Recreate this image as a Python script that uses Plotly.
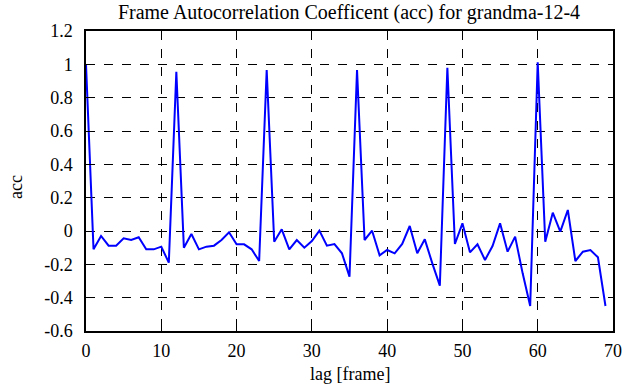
import plotly.graph_objects as go

lags = list(range(70))
acc = [1.0, -0.11, -0.03, -0.088, -0.088, -0.044, -0.054, -0.038, -0.11, -0.11,
       -0.094, -0.19, 0.956, -0.10, -0.018, -0.11, -0.094, -0.088, -0.054, -0.008,
       -0.08, -0.08, -0.11, -0.18, 0.966, -0.064, 0.01, -0.11, -0.054, -0.10,
       -0.06, 0.002, -0.088, -0.078, -0.134, -0.274, 0.966, -0.054, 0.002, -0.146,
       -0.114, -0.134, -0.078, 0.03, -0.134, -0.05, -0.194, -0.328, 0.98, -0.078,
       0.046, -0.128, -0.08, -0.174, -0.09, 0.046, -0.124, -0.034, -0.254, -0.45,
       1.012, -0.064, 0.11, -0.004, 0.126, -0.18, -0.124, -0.114, -0.158, -0.45]

x_ticks = [0, 10, 20, 30, 40, 50, 60, 70]
y_ticks = [1.2, 1.0, 0.8, 0.6, 0.4, 0.2, 0.0, -0.2, -0.4, -0.6]
y_tick_text = ["1.2", "1", "0.8", "0.6", "0.4", "0.2", "0", "-0.2", "-0.4", "-0.6"]

title = "Frame Autocorrelation Coefficent (acc) for grandma-12-4"
x_label = "lag [frame]"
y_label = "acc"

font = "Liberation Serif"

W, H = 635, 387
L, T = 86, 31
PW, PH = 527, 300

fig = go.Figure()
fig.add_trace(go.Scatter(x=lags, y=acc, mode="lines",
                         line=dict(color="#0000ff", width=2), showlegend=False))

axis_common = dict(showline=True, linecolor="black", linewidth=1.5, mirror="ticks",
                   ticks="inside", ticklen=5, tickcolor="black", tickwidth=1,
                   showgrid=True, gridcolor="black", gridwidth=1, griddash="dash",
                   zeroline=False, automargin=False,
                   tickfont=dict(family=font, size=18, color="black"))

fig.update_xaxes(range=[0, 70], tickvals=x_ticks, ticklabelstandoff=3, **axis_common)
fig.update_yaxes(range=[-0.6, 1.2], tickvals=y_ticks, ticktext=y_tick_text,
                 ticklabelstandoff=8, **axis_common)

fig.update_layout(
    width=W, height=H,
    margin=dict(l=L, r=W - L - PW, t=T, b=H - T - PH, pad=0),
    plot_bgcolor="white", paper_bgcolor="white",
    title=dict(text=title, x=349 / W, xanchor="center",
               y=1 - 12 / H, yanchor="middle",
               font=dict(family=font, size=20, color="black")),
    annotations=[
        dict(text=x_label, xref="paper", yref="paper", x=0.5, y=-(374 - 331) / PH,
             xanchor="center", yanchor="middle", showarrow=False,
             font=dict(family=font, size=18, color="black")),
        dict(text=y_label, xref="paper", yref="paper", x=-(86 - 16) / PW, y=(331 - 187) / PH,
             xanchor="center", yanchor="middle", showarrow=False, textangle=-90,
             font=dict(family=font, size=18, color="black")),
    ],
)

fig.write_html("out.html", config={"displayModeBar": False},
               post_script="document.body.style.margin='0';document.body.style.overflow='hidden';")
